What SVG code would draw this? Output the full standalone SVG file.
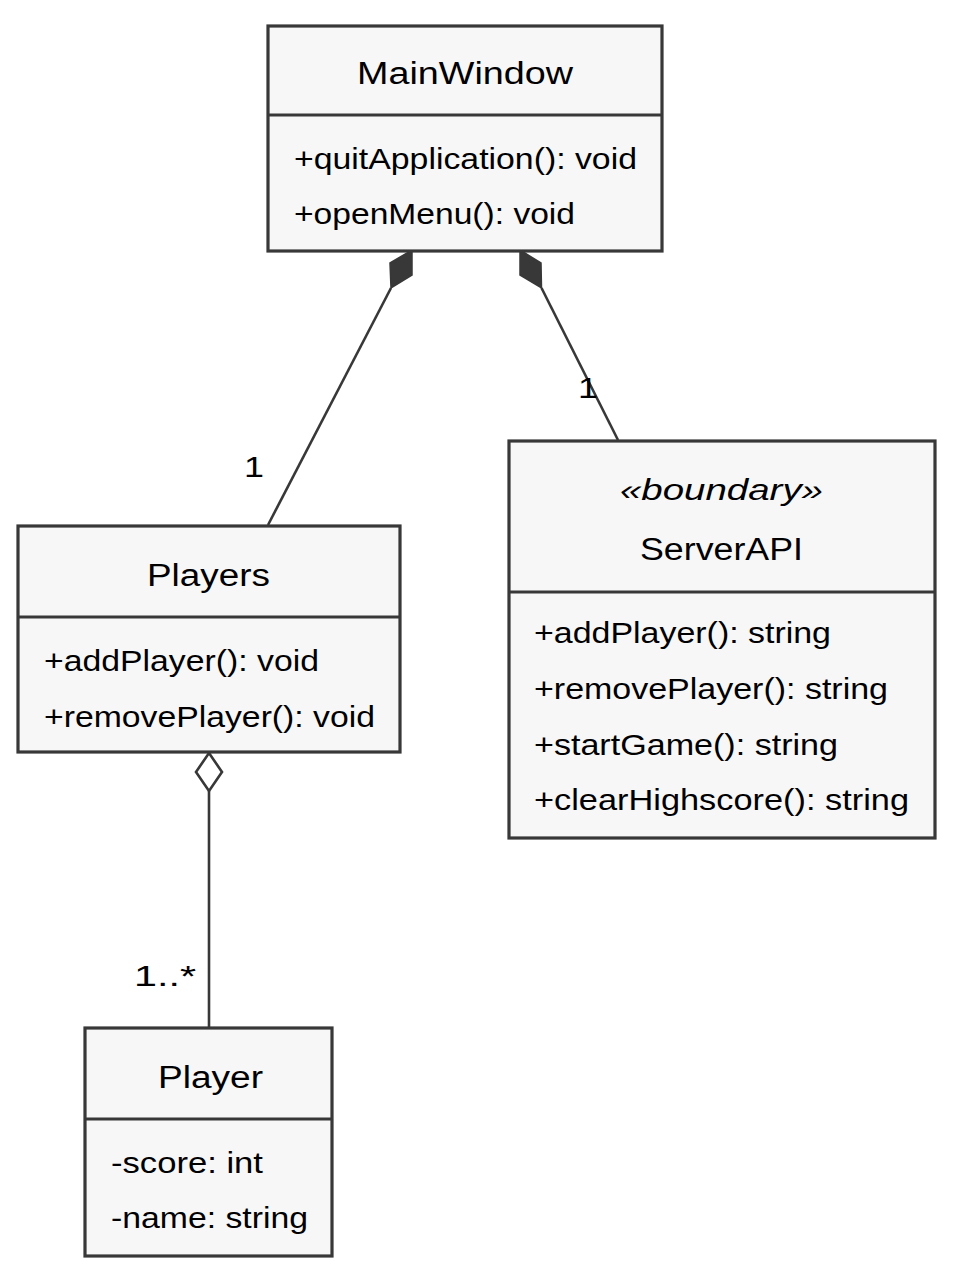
<svg xmlns="http://www.w3.org/2000/svg" width="965" height="1286" viewBox="0 0 965 1286">
<style>
.box{fill:#f7f7f7;stroke:#383838;stroke-width:3.2}
.sep{stroke:#383838;stroke-width:3.2}
.t{font-family:"Liberation Sans",Arial,sans-serif;fill:#000}
.title{font-size:31px}
.mem{font-size:29px}
.ster{font-size:29px;font-style:italic}
.lbl{font-family:"Liberation Sans",Arial,sans-serif;font-size:30px;fill:#000}
.edge{stroke:#383838;stroke-width:2.6;fill:none}
.fd{fill:#383838;stroke:#383838;stroke-width:1.5}
.hd{fill:#ffffff;stroke:#383838;stroke-width:2.6}
</style>
<rect width="965" height="1286" fill="#ffffff"/>
<g id="connectors">
  <line class="edge" x1="391" y1="288" x2="268" y2="525"/>
  <polygon class="fd" points="412,250 412,275 391,288 390,263"/>
  <line class="edge" x1="541.5" y1="288" x2="618" y2="440"/>
  <polygon class="fd" points="520,250 541,263 541.5,288 520,275"/>
  <line class="edge" x1="209" y1="791" x2="209" y2="1027"/>
  <polygon class="hd" points="209,753 222,772 209,791 196,772"/>
  <text class="lbl" x="244" y="477" textLength="20" lengthAdjust="spacingAndGlyphs">1</text>
  <text class="lbl" x="578" y="398" textLength="20" lengthAdjust="spacingAndGlyphs">1</text>
  <text class="lbl" x="134" y="986" textLength="62" lengthAdjust="spacingAndGlyphs">1..*</text>
</g>
<g id="MainWindow">
  <rect class="box" x="268" y="26" width="394" height="225"/>
  <line class="sep" x1="268" y1="115" x2="662" y2="115"/>
  <text class="t title" x="357" y="84" textLength="216" lengthAdjust="spacingAndGlyphs">MainWindow</text>
  <text class="t mem" x="294" y="169" textLength="343" lengthAdjust="spacingAndGlyphs">+quitApplication(): void</text>
  <text class="t mem" x="294" y="224" textLength="281" lengthAdjust="spacingAndGlyphs">+openMenu(): void</text>
</g>
<g id="Players">
  <rect class="box" x="18" y="526" width="382" height="226"/>
  <line class="sep" x1="18" y1="617" x2="400" y2="617"/>
  <text class="t title" x="147" y="586" textLength="123" lengthAdjust="spacingAndGlyphs">Players</text>
  <text class="t mem" x="44" y="671" textLength="275" lengthAdjust="spacingAndGlyphs">+addPlayer(): void</text>
  <text class="t mem" x="44" y="727" textLength="331" lengthAdjust="spacingAndGlyphs">+removePlayer(): void</text>
</g>
<g id="ServerAPI">
  <rect class="box" x="509" y="441" width="426" height="397"/>
  <line class="sep" x1="509" y1="592" x2="935" y2="592"/>
  <text class="t ster" x="620" y="500" textLength="203" lengthAdjust="spacingAndGlyphs">«boundary»</text>
  <text class="t title" x="640" y="560" textLength="163" lengthAdjust="spacingAndGlyphs">ServerAPI</text>
  <text class="t mem" x="534" y="643" textLength="297" lengthAdjust="spacingAndGlyphs">+addPlayer(): string</text>
  <text class="t mem" x="534" y="699" textLength="354" lengthAdjust="spacingAndGlyphs">+removePlayer(): string</text>
  <text class="t mem" x="534" y="755" textLength="304" lengthAdjust="spacingAndGlyphs">+startGame(): string</text>
  <text class="t mem" x="534" y="810" textLength="375" lengthAdjust="spacingAndGlyphs">+clearHighscore(): string</text>
</g>
<g id="Player">
  <rect class="box" x="85" y="1028" width="247" height="228"/>
  <line class="sep" x1="85" y1="1119" x2="332" y2="1119"/>
  <text class="t title" x="158" y="1088" textLength="105" lengthAdjust="spacingAndGlyphs">Player</text>
  <text class="t mem" x="111" y="1173" textLength="152" lengthAdjust="spacingAndGlyphs">-score: int</text>
  <text class="t mem" x="111" y="1228" textLength="197" lengthAdjust="spacingAndGlyphs">-name: string</text>
</g>
</svg>
